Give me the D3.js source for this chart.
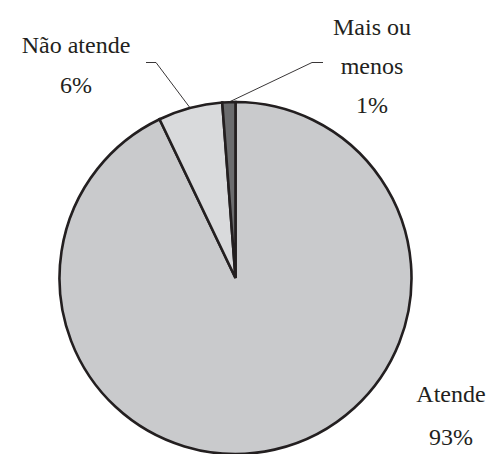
<html>
<body style="margin:0">
<div id='chart'></div>
<script src='https://cdn.jsdelivr.net/npm/d3@7/dist/d3.min.js'></script>
<script>
    // data
    var categories = ['Atende', 'Não atende', 'Mais ou menos'];
    var values = [92.9, 5.9, 1.2];
    var percentLabels = ['93%', '6%', '1%'];
    var colors = ['#c9cacc', '#d9dadc', '#6b6c6e'];

    var width = 495,
        height = 454,
        cx = 235.5,
        cy = 278,
        radius = 176;

    // label placement (lines of text, centre x, first baseline) and leader elbows
    var labelLines = [['Atende'], ['Não atende'], ['Mais ou', 'menos']];
    var labelPos = [[451, 402], [76, 53], [372, 35]];
    var lineGap = [43, 40, 39];
    var leaderElbow = [null, [[146, 62.5], [156, 62.5]], [[323, 62.5], [312, 62.5]]];

    var svg = d3.select('#chart').append('svg')
      .attr('width', width)
      .attr('height', height);

    var pie = d3.pie().sort(null).value(function(d){ return d; });
    var arcs = pie(values);
    var arc = d3.arc().innerRadius(0).outerRadius(radius);

    var g = svg.append('g').attr('transform', 'translate(' + cx + ',' + cy + ')');

    g.selectAll('path')
      .data(arcs)
      .enter()
      .append('path')
      .attr('d', arc)
      .attr('fill', function(d, i){ return colors[i]; })
      .attr('stroke', '#231f20')
      .attr('stroke-width', 2.6)
      .attr('stroke-linejoin', 'miter');

    // leader lines
    arcs.forEach(function(d, i){
      if (!leaderElbow[i]) return;
      var a = (d.startAngle + d.endAngle) / 2;
      var px = cx + radius * Math.sin(a),
          py = cy - radius * Math.cos(a);
      var pts = [leaderElbow[i][0], leaderElbow[i][1], [px, py]];
      svg.append('path')
        .attr('d', d3.line()(pts))
        .attr('fill', 'none')
        .attr('stroke', '#231f20')
        .attr('stroke-width', 0.9);
    });

    // labels, one text element per line, centred by measuring (no text-anchor)
    var labelData = [];
    categories.forEach(function(c, i){
      labelLines[i].concat([percentLabels[i]]).forEach(function(s, j){
        labelData.push({ s: s, x: labelPos[i][0], y: labelPos[i][1] + j * lineGap[i] });
      });
    });

    svg.selectAll('text').data(labelData).enter().append('text')
      .attr('x', function(d){ return d.x; })
      .attr('y', function(d){ return d.y; })
      .style('font-family', "'Liberation Serif'")
      .style('font-size', '24px')
      .style('fill', '#231f20')
      .text(function(d){ return d.s; })
      .attr('x', function(d){ return d.x - this.getComputedTextLength() / 2; });
</script>
</body>
</html>
